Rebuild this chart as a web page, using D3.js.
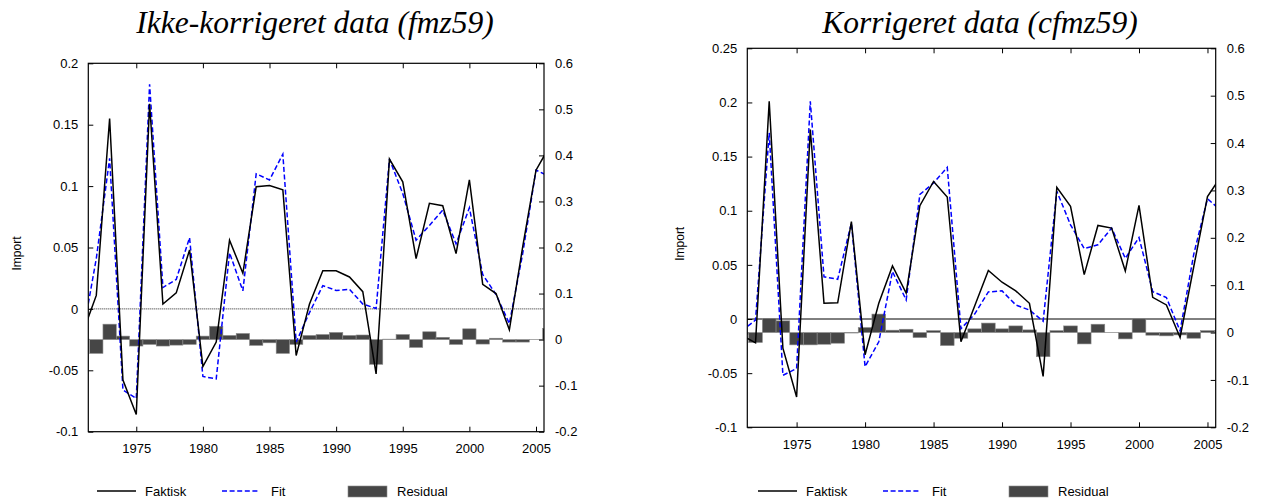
<!DOCTYPE html>
<html><head><meta charset="utf-8">
<script src="https://cdn.jsdelivr.net/npm/d3@7"></script>
<style>body{margin:0;background:#fff} svg{display:block}</style>
</head><body>
<svg id="c" width="1261" height="501"></svg>
<script>
const years = [1971,1972,1973,1974,1975,1976,1977,1978,1979,1980,1981,1982,1983,1984,1985,1986,1987,1988,1989,1990,1991,1992,1993,1994,1995,1996,1997,1998,1999,2000,2001,2002,2003,2004,2005,2006];
const tickYears = [1975,1980,1985,1990,1995,2000,2005];

// Ikke-korrigeret data (fmz59)
const faktiskIkke = [-0.019,0.011,0.155,-0.058,-0.086,0.167,0.004,0.013,0.048,-0.047,-0.027,0.056,0.029,0.0995,0.1005,0.097,-0.038,0.004,0.031,0.031,0.026,0.014,-0.053,0.122,0.1035,0.041,0.086,0.084,0.045,0.105,0.020,0.0125,-0.017,0.0505,0.113,0.132];
const fitIkke = [-0.020,0.041,0.1226,-0.066,-0.073,0.183,0.0174,0.024,0.058,-0.055,-0.057,0.0457,0.0147,0.110,0.105,0.126,-0.027,-0.003,0.019,0.015,0.016,0.004,0.0003,0.122,0.094,0.056,0.068,0.0804,0.053,0.0823,0.028,0.0117,-0.012,0.045,0.113,0.108];
const residualIkke = [0.001,-0.030,0.0335,0.0076,-0.014,-0.0105,-0.014,-0.012,-0.0105,0.0076,0.029,0.009,0.0133,-0.0126,-0.007,-0.030,-0.0105,0.009,0.011,0.0155,0.009,0.010,-0.0537,0.001,0.011,-0.017,0.017,0.005,-0.0105,0.0234,-0.0097,0.003,-0.0054,-0.0054,0.0005,0.024];

// Korrigeret data (cfmz59)
const faktiskKorr = [-0.015,-0.022,0.201,-0.027,-0.072,0.175,0.0145,0.015,0.090,-0.033,0.0145,0.049,0.024,0.1046,0.127,0.1127,-0.021,0.012,0.0448,0.034,0.026,0.0145,-0.053,0.1216,0.104,0.041,0.0864,0.084,0.0444,0.105,0.020,0.013,-0.017,0.0485,0.113,0.132];
const fitKorr = [-0.011,-0.001,0.172,-0.052,-0.0457,0.201,0.039,0.0367,0.0886,-0.044,-0.021,0.0438,0.0176,0.115,0.1256,0.140,-0.009,0.0046,0.025,0.026,0.013,0.0083,-0.002,0.118,0.087,0.065,0.0685,0.084,0.056,0.0753,0.0253,0.0198,-0.011,0.060,0.111,0.100];
const residualKorr = [-0.004,-0.021,0.030,0.0247,-0.026,-0.026,-0.0247,-0.0225,-0.001,0.0106,0.039,0.005,0.007,-0.0106,0.004,-0.0275,-0.012,0.0078,0.020,0.0078,0.014,0.0056,-0.051,0.004,0.014,-0.024,0.0176,0.0005,-0.0134,0.029,-0.0056,-0.007,-0.005,-0.012,0.004,0.004];

const leftTicksIkke = [0.2,0.15,0.1,0.05,0,-0.05,-0.1];
const leftTicksKorr = [0.25,0.2,0.15,0.1,0.05,0,-0.05,-0.1];
const rightTicks = [0.6,0.5,0.4,0.3,0.2,0.1,0,-0.1,-0.2];
const titles = ["Ikke-korrigeret data (fmz59)", "Korrigeret data (cfmz59)"];
const yAxisLabel = "Import";
const legendLabels = ["Faktisk","Fit","Residual"];

const svg = d3.select("#c");
const FONT = "Liberation Sans, Arial, sans-serif";
const fmt = d => d === 0 ? "0" : String(d);

const panels = [
  {id:"p0", x0:88.3, x1:544, y0:63.3, y1:431.7, lDom:[-0.1,0.2], lTicks:leftTicksIkke,
   act:faktiskIkke, fit:fitIkke, res:residualIkke, title:titles[0], titleX:315, zeroDotted:true,
   labelX:17, legX:97},
  {id:"p1", x0:747.3, x1:1215.7, y0:48.3, y1:427.3, lDom:[-0.1,0.25], lTicks:leftTicksKorr,
   act:faktiskKorr, fit:fitKorr, res:residualKorr, title:titles[1], titleX:980, zeroDotted:false,
   labelX:680, legX:758}
];

panels.forEach(p => {
  const x = d3.scaleLinear().domain([1971.4, 2005.6]).range([p.x0, p.x1]);
  const yL = d3.scaleLinear().domain(p.lDom).range([p.y1, p.y0]);
  const yR = d3.scaleLinear().domain([-0.2, 0.6]).range([p.y1, p.y0]);
  const g = svg.append("g");

  svg.append("clipPath").attr("id", "clip" + p.id)
    .append("rect").attr("x", p.x0).attr("y", p.y0).attr("width", p.x1 - p.x0).attr("height", p.y1 - p.y0);

  // title
  g.append("text").attr("x", p.titleX).attr("y", 33).attr("text-anchor", "middle")
    .style("font-family", "Liberation Serif, Times New Roman, serif").style("font-style", "italic")
    .style("font-size", "31.5px").text(p.title);

  const plot = g.append("g").attr("clip-path", "url(#clip" + p.id + ")");
  const data = years.map((yr, i) => ({yr, a:p.act[i], f:p.fit[i], r:p.res[i]}));

  // zero line
  plot.append("line").attr("x1", p.x0).attr("x2", p.x1).attr("y1", yL(0)).attr("y2", yL(0))
    .attr("stroke", p.zeroDotted ? "#222" : "#000").attr("stroke-width", 1)
    .attr("stroke-dasharray", p.zeroDotted ? "1,1" : null);

  // residual bars
  plot.selectAll("rect.bar").data(data).enter().append("rect").attr("class", "bar")
    .attr("x", d => x(d.yr - 0.5)).attr("width", d => x(d.yr + 0.5) - x(d.yr - 0.5))
    .attr("y", d => Math.min(yR(0), yR(d.r))).attr("height", d => Math.abs(yR(d.r) - yR(0)))
    .attr("fill", "#464646").attr("stroke", "#8c8c8c").attr("stroke-width", 0.6);

  // lines
  const lineA = d3.line().x(d => x(d.yr)).y(d => yL(d.a));
  const lineF = d3.line().x(d => x(d.yr)).y(d => yL(d.f));
  plot.append("path").datum(data).attr("d", lineF).attr("fill", "none")
    .attr("stroke", "#0000ff").attr("stroke-width", 1.5).attr("stroke-dasharray", "5,2.6");
  plot.append("path").datum(data).attr("d", lineA).attr("fill", "none")
    .attr("stroke", "#000").attr("stroke-width", 1.5);

  // axes
  const style = sel => {
    sel.select(".domain").remove();
    sel.selectAll("line").attr("stroke", "#000");
    sel.selectAll("text").style("font-family", FONT).style("font-size", "13px").attr("fill", "#000");
  };
  g.append("g").attr("transform", `translate(${p.x0},0)`)
    .call(d3.axisLeft(yL).tickValues(p.lTicks).tickFormat(fmt).tickSize(-5).tickPadding(10)).call(style);
  g.append("g").attr("transform", `translate(${p.x1},0)`)
    .call(d3.axisRight(yR).tickValues(rightTicks).tickFormat(fmt).tickSize(-5).tickPadding(11)).call(style);
  g.append("g").attr("transform", `translate(0,${p.y1})`)
    .call(d3.axisBottom(x).tickValues(tickYears).tickFormat(d3.format("d")).tickSize(-5).tickPadding(12)).call(style);
  g.append("g").attr("transform", `translate(0,${p.y0})`)
    .call(d3.axisTop(x).tickValues(tickYears).tickFormat("").tickSize(-5)).call(style);

  // frame
  g.append("rect").attr("x", p.x0).attr("y", p.y0).attr("width", p.x1 - p.x0).attr("height", p.y1 - p.y0)
    .attr("fill", "none").attr("stroke", "#000").attr("stroke-width", 1.2);

  // y label
  const cy = (p.y0 + p.y1) / 2 + 6;
  g.append("text").attr("transform", `translate(${p.labelX},${cy}) rotate(-90)`)
    .attr("text-anchor", "middle").attr("dy", "0.35em")
    .style("font-family", FONT).style("font-size", "12px").text(yAxisLabel);

  // legend
  const ly = 491;
  const lg = g.append("g").style("font-family", FONT).style("font-size", "13px");
  lg.append("line").attr("x1", p.legX).attr("x2", p.legX + 39).attr("y1", ly).attr("y2", ly)
    .attr("stroke", "#000").attr("stroke-width", 1.5);
  lg.append("text").attr("x", p.legX + 48).attr("y", ly).attr("dy", "0.35em").text(legendLabels[0]);
  lg.append("line").attr("x1", p.legX + 125).attr("x2", p.legX + 163).attr("y1", ly).attr("y2", ly)
    .attr("stroke", "#0000ff").attr("stroke-width", 1.5).attr("stroke-dasharray", "5,2.6");
  lg.append("text").attr("x", p.legX + 174).attr("y", ly).attr("dy", "0.35em").text(legendLabels[1]);
  lg.append("rect").attr("x", p.legX + 251).attr("y", ly - 5).attr("width", 39).attr("height", 11)
    .attr("fill", "#464646").attr("stroke", "#8c8c8c").attr("stroke-width", 0.6);
  lg.append("text").attr("x", p.legX + 300).attr("y", ly).attr("dy", "0.35em").text(legendLabels[2]);
});
</script>
</body></html>
